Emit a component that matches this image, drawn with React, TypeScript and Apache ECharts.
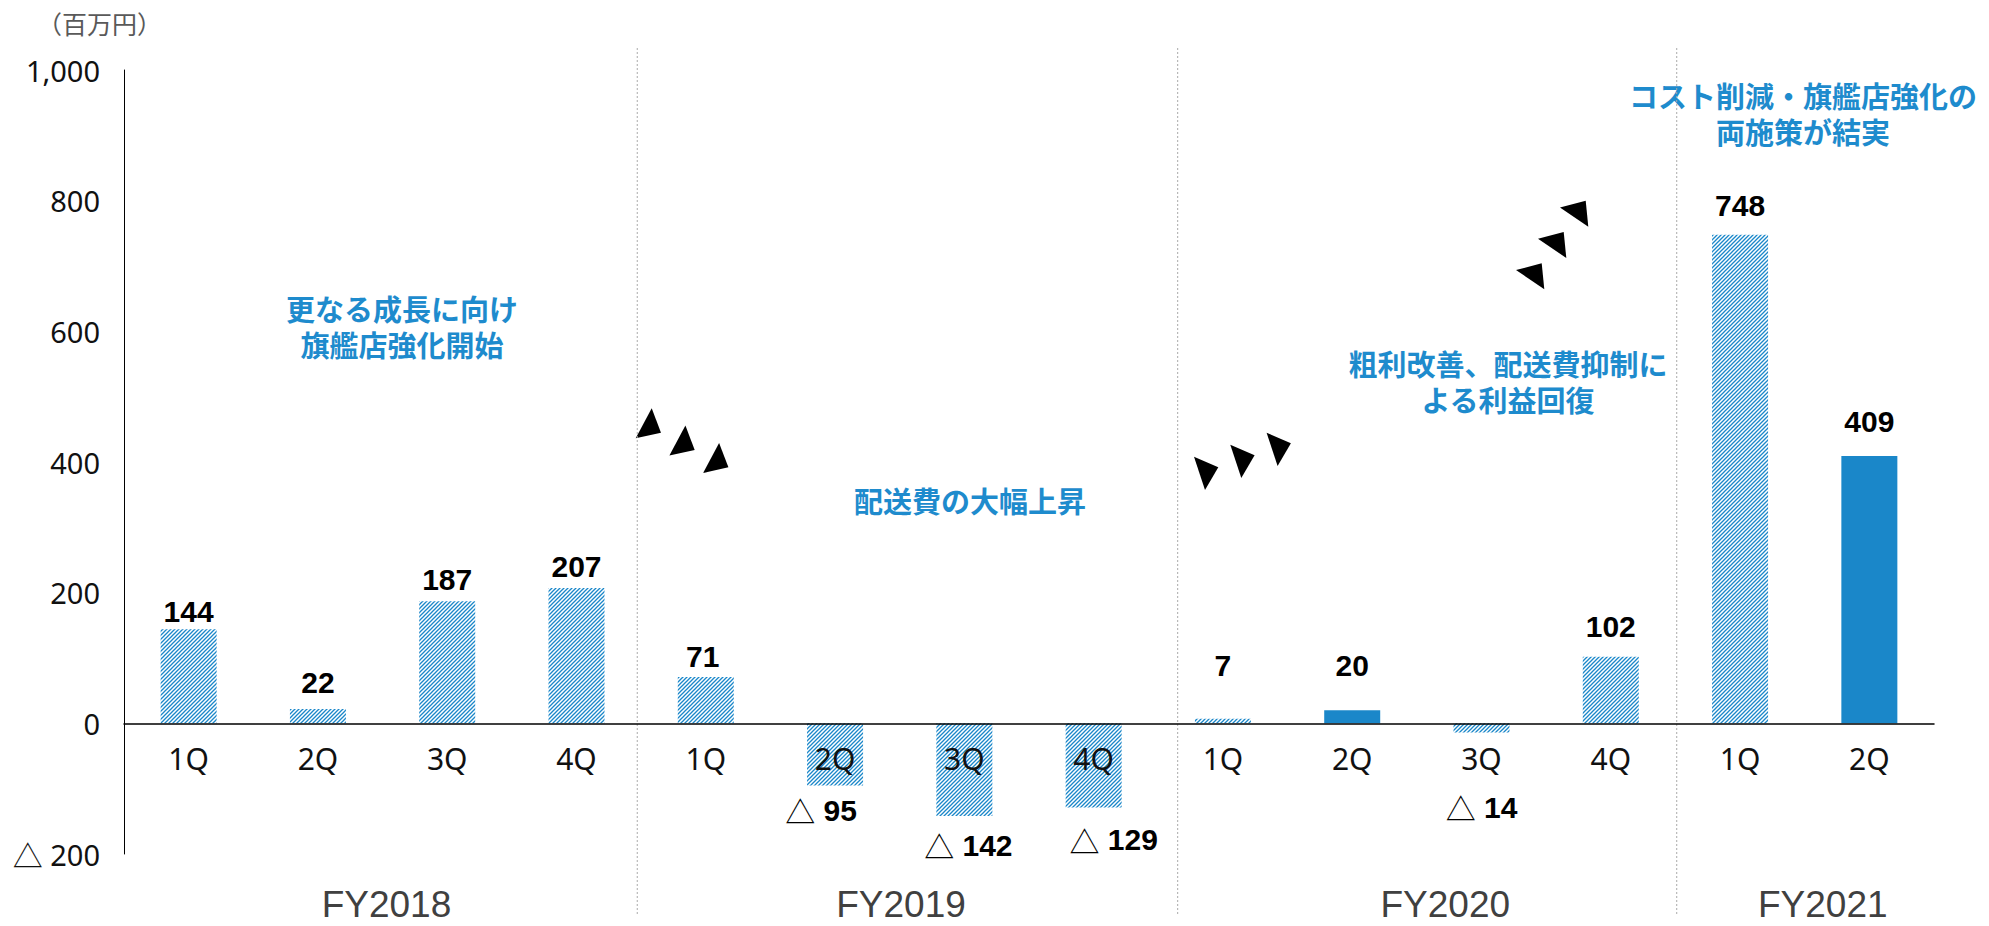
import { useEffect, useRef } from 'react';
import * as echarts from 'echarts';

// Quarterly operating profit (百万円), FY2018 1Q – FY2021 2Q
const quarters = ['1Q', '2Q', '3Q', '4Q', '1Q', '2Q', '3Q', '4Q', '1Q', '2Q', '3Q', '4Q', '1Q', '2Q'];
const profit = [144, 22, 187, 207, 71, -95, -142, -129, 7, 20, -14, 102, 748, 409];
// quarters drawn as solid bars (the rest are hatched)
const solidQuarters = [9, 13];
const fiscalYears = ['FY2018', 'FY2019', 'FY2020', 'FY2021'];
const yTicks = { min: -200, max: 1000, interval: 200 };

const notes = [
  '更なる成長に向け\n旗艦店強化開始',
  '配送費の大幅上昇',
  '粗利改善、配送費抑制に\nよる利益回復',
  'コスト削減・旗艦店強化の\n両施策が結実',
];

// layout (in category units / pixels)
const labelShift: [number, number][] = [
  [0, 4], [0, -4], [0, 0], [0, 0], [-3, 2], [-14, 3], [4, 7], [20, 10],
  [0, -31], [0, -23], [0, 53], [0, -8], [0, -7], [0, -13],
];
const fySlot = [1.53, 5.51, 9.72, 12.64];
const dividerSlot = [3.47, 7.65, 11.51];
const notePos: [number, number][] = [[402, 326], [970, 500], [1508, 381], [1803, 113]];

const BLUE = '#1a87c9';
const NOTE_BLUE = '#1e8bcd';

function hatchTile() {
  const s = 4;
  const c = document.createElement('canvas');
  c.width = s;
  c.height = s;
  const ctx = c.getContext('2d')!;
  ctx.fillStyle = '#ffffff';
  ctx.fillRect(0, 0, s, s);
  ctx.strokeStyle = BLUE;
  ctx.lineWidth = 1.3;
  ctx.beginPath();
  ctx.moveTo(-1, s + 1);
  ctx.lineTo(s + 1, -1);
  ctx.moveTo(-1, 1);
  ctx.lineTo(1, -1);
  ctx.moveTo(s - 1, s + 1);
  ctx.lineTo(s + 1, s - 1);
  ctx.stroke();
  return c;
}

// small black arrowheads: first vertex, the other two relative to it, then the step between heads
const arrowRuns: { start: [number, number]; v1: [number, number]; v2: [number, number]; step: [number, number] }[] = [
  { start: [651.7, 408.3], v1: [-16, 30], v2: [9.3, 24.4], step: [33.7, 17.3] },
  { start: [1194, 456.7], v1: [24.3, 10.6], v2: [11, 33.3], step: [36.3, -12] },
  { start: [1516, 270], v1: [25.7, -6.7], v2: [28.3, 19.3], step: [22, -31.3] },
];

export default function App() {
  const ref = useRef<HTMLDivElement>(null);

  useEffect(() => {
    const el = ref.current!;
    const chart = echarts.init(el, undefined, { renderer: 'svg' });
    const hatch = { image: hatchTile(), repeat: 'repeat' as const };

    const valueFont = { fontFamily: 'Liberation Sans', fontWeight: 'bold' as const, fontSize: 30, color: '#000' };

    const data = profit.map((v, i) => ({
      value: v,
      itemStyle: { color: solidQuarters.includes(i) ? BLUE : (hatch as any) },
      label: {
        show: true,
        position: v >= 0 ? 'top' : 'bottom',
        distance: 7,
        offset: labelShift[i],
        formatter: v >= 0 ? String(v) : `{tri|△} {num|${-v}}`,
        ...valueFont,
        rich: {
          tri: { fontFamily: 'Noto Sans CJK JP', fontWeight: 'normal', fontSize: 30, color: '#000' },
          num: { ...valueFont },
        },
      },
    }));

    chart.setOption({
      animation: false,
      grid: { left: 124, right: 55, top: 70, bottom: 72, containLabel: false },
      xAxis: {
        type: 'category',
        data: quarters,
        z: 5,
        axisLine: { onZero: false, lineStyle: { color: '#000', width: 1.5 } },
        axisTick: { show: false },
        axisLabel: { color: '#111', fontSize: 30, fontFamily: 'Noto Sans', margin: 20, interval: 0 },
      },
      yAxis: {
        type: 'value',
        min: yTicks.min,
        max: yTicks.max,
        interval: yTicks.interval,
        axisLine: { show: true, lineStyle: { color: '#000', width: 1 } },
        axisTick: { show: false },
        splitLine: { show: false },
        axisLabel: {
          color: '#111',
          fontSize: 29,
          fontFamily: 'Noto Sans',
          margin: 24,
          formatter: (v: number) =>
            v < 0 ? `{tri|△} ${-v}` : v >= 1000 ? v.toLocaleString('en-US') : String(v),
          rich: {
            tri: { fontFamily: 'Noto Sans CJK JP', fontSize: 30, color: '#111' },
          },
        },
      },
      series: [{ type: 'bar', data, barWidth: 56, z: 2 }],
    });

    // lift the category axis (line + labels) up to the zero line
    const yBottom = chart.convertToPixel({ yAxisIndex: 0 }, yTicks.min) as number;
    const yZero = chart.convertToPixel({ yAxisIndex: 0 }, 0) as number;
    chart.setOption({ xAxis: { offset: -(yBottom - yZero) } });

    const x0 = chart.convertToPixel({ xAxisIndex: 0 }, 0) as number;
    const x1 = chart.convertToPixel({ xAxisIndex: 0 }, 1) as number;
    const slotX = (s: number) => x0 + s * (x1 - x0);

    const graphics: any[] = [];

    graphics.push({
      type: 'text',
      x: 37,
      y: 23,
      style: { text: '（百万円）', fill: '#595959', font: '25px "Noto Sans CJK JP"', textVerticalAlign: 'middle' },
    });

    dividerSlot.forEach((s) => {
      graphics.push({
        type: 'line',
        shape: { x1: slotX(s), y1: 48, x2: slotX(s), y2: 915 },
        style: { stroke: '#aaaaaa', lineWidth: 1, lineDash: [2, 2] },
        z: 1,
      });
    });

    fiscalYears.forEach((fy, i) => {
      graphics.push({
        type: 'text',
        x: slotX(fySlot[i]),
        y: 904,
        style: {
          text: fy,
          fill: '#404040',
          font: '37px "Liberation Sans"',
          lineHeight: 38,
          textAlign: 'center',
          textVerticalAlign: 'middle',
        },
      });
    });

    notes.forEach((t, i) => {
      graphics.push({
        type: 'text',
        x: notePos[i][0],
        y: notePos[i][1],
        style: {
          text: t,
          fill: NOTE_BLUE,
          font: 'bold 29px "Noto Sans CJK JP"',
          lineHeight: 36,
          textAlign: 'center',
          textVerticalAlign: 'middle',
        },
      });
    });

    arrowRuns.forEach((run) => {
      for (let k = 0; k < 3; k++) {
        const ax = run.start[0] + k * run.step[0];
        const ay = run.start[1] + k * run.step[1];
        graphics.push({
          type: 'polygon',
          shape: {
            points: [
              [ax, ay],
              [ax + run.v1[0], ay + run.v1[1]],
              [ax + run.v2[0], ay + run.v2[1]],
            ],
          },
          style: { fill: '#000' },
        });
      }
    });

    chart.setOption({ graphic: graphics });

    return () => chart.dispose();
  }, []);

  return (
    <div
      ref={ref}
      style={{ position: 'fixed', left: 0, top: 0, width: 1989, height: 926, background: '#fff' }}
    />
  );
}
